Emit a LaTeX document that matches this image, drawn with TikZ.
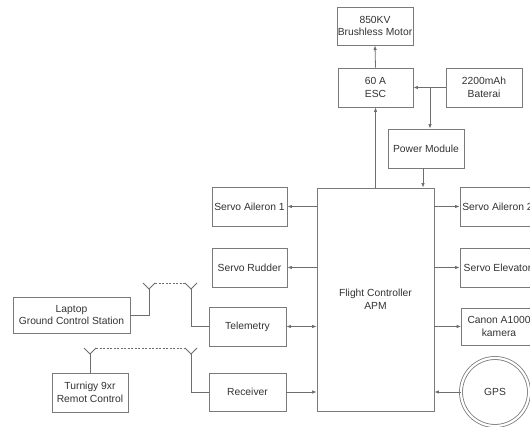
\documentclass[tikz,border=0pt]{standalone}
\usepackage{fontspec}
\setmainfont{Liberation Sans}
\usetikzlibrary{arrows.meta}
\definecolor{boxgray}{HTML}{7A7A7A}
\definecolor{linegray}{HTML}{6E6E6E}
\definecolor{textgray}{HTML}{333333}
\begin{document}
\begin{tikzpicture}[x=1pt,y=-1pt,
  box/.style={draw=boxgray, line width=0.8pt, fill=white, align=center, text=textgray,
    font=\fontsize{10.3}{12.5}\selectfont, inner sep=0pt},
  wire/.style={draw=linegray, line width=0.8pt},
  arr/.style={wire, -{Latex[length=4.5pt,width=3.5pt]}},
  darr/.style={wire, {Latex[length=4.5pt,width=3.5pt]}-{Latex[length=4.5pt,width=3.5pt]}},
  radio/.style={wire, dash pattern=on 2pt off 1.5pt},
]
\useasboundingbox (0,0) rectangle (530,427);
\clip (0,0) rectangle (530,427);
\fill[white] (0,0) rectangle (530,427);

\node[box, minimum width=76pt, minimum height=38pt] (motor) at (375,26) {850KV\\Brushless Motor};
\node[box, minimum width=75pt, minimum height=39pt] (esc) at (375.5,87.5) {60 A\\ESC};
\node[box, minimum width=76pt, minimum height=39pt] (bat) at (484,87.5) {2200mAh\\Baterai};
\node[box, minimum width=76pt, minimum height=39pt] (pm) at (426,148.5) {Power Module};
\node[box, minimum width=117pt, minimum height=223pt] (fc) at (375.5,299.5) {Flight Controller\\APM};
\node[box, minimum width=75pt, minimum height=39pt] (ail1) at (249.5,206.5) {Servo Aileron 1};
\node[box, minimum width=75pt, minimum height=39pt] (ail2) at (497.5,206.5) {Servo Aileron 2};
\node[box, minimum width=75pt, minimum height=39pt] (rud) at (249.5,267.5) {Servo Rudder};
\node[box, minimum width=75pt, minimum height=39pt] (elev) at (497.5,267.5) {Servo Elevator};
\node[box, minimum width=75pt, minimum height=37pt] (canon) at (499,326.5) {Canon A1000\\kamera};
\node[box, circle, minimum size=68pt, double=white, double distance=2.2pt] (gps) at (495,392) {GPS};
\node[box, minimum width=77pt, minimum height=39pt] (tel) at (247.5,326.5) {Telemetry};
\node[box, minimum width=77pt, minimum height=38pt] (rec) at (247.5,392) {Receiver};
\node[box, minimum width=117pt, minimum height=36pt] (laptop) at (71.5,315) {Laptop\\Ground Control Station};
\node[box, minimum width=76pt, minimum height=39pt] (turn) at (90,392.5) {Turnigy 9xr\\Remot Control};

% power and motor
\draw[arr] (esc.north) -- (motor.south);
\draw[arr] (fc.north -| esc.south) -- (esc.south);
\draw[arr] (bat.west) -- (esc.east);
\coordinate (bj) at (430,87.5);
\draw[arr] (bj) -- (bj |- pm.north);
\coordinate (pmx) at (423,0);
\draw[arr] (pmx |- pm.south) -- (pmx |- fc.north);

% servos and peripherals
\draw[arr] (fc.west |- ail1) -- (ail1.east);
\draw[arr] (fc.east |- ail2) -- (ail2.west);
\draw[arr] (fc.west |- rud) -- (rud.east);
\draw[arr] (fc.east |- elev) -- (elev.west);
\draw[arr] (fc.east |- canon) -- (canon.west);
\draw[arr] (gps.west) -- (fc.east |- gps);
\draw[darr] (tel.east) -- (fc.west |- tel);
\draw[arr] (rec.east) -- (fc.west |- rec);

% antennas
\coordinate (a1) at (149,289); \coordinate (a1l) at (143,283); \coordinate (a1r) at (155,283);
\coordinate (a2) at (191,289); \coordinate (a2l) at (185,283); \coordinate (a2r) at (197,283);
\coordinate (a3) at (90,354);  \coordinate (a3l) at (84,348);  \coordinate (a3r) at (96,348);
\coordinate (a4) at (191,354); \coordinate (a4l) at (185,348); \coordinate (a4r) at (197,348);
\draw[wire] (a1l) -- (a1) -- (a1r);
\draw[wire] (a2l) -- (a2) -- (a2r);
\draw[wire] (a3l) -- (a3) -- (a3r);
\draw[wire] (a4l) -- (a4) -- (a4r);
\draw[wire] (laptop.east) -| (a1);
\draw[wire] (a2) |- (tel.west);
\draw[wire] (a3) -- (turn.north);
\draw[wire] (a4) |- (rec.west);
\draw[radio] (a1r) -- (a2l);
\draw[radio] (a3r) -- (a4l);
\end{tikzpicture}
\end{document}
